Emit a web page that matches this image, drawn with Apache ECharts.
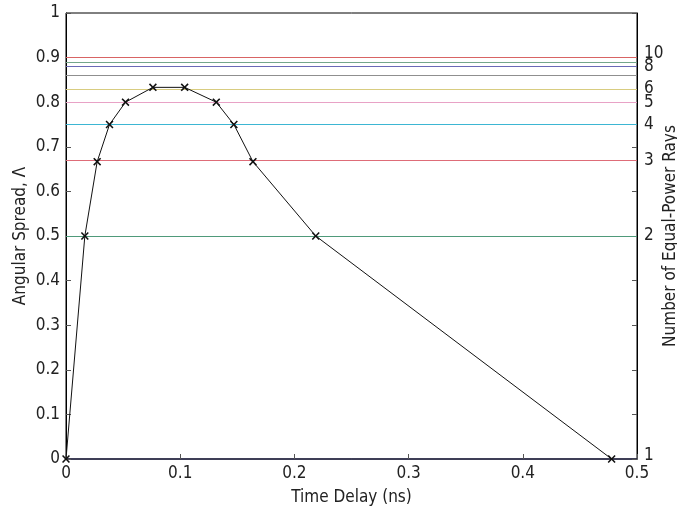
<!DOCTYPE html>
<html>
<head>
<meta charset="utf-8">
<script src="https://cdn.jsdelivr.net/npm/echarts@6/dist/echarts.min.js"></script>
<style>html,body{margin:0;padding:0;background:#fff}#c{width:677px;height:508px}</style>
</head>
<body>
<div id="c"></div>
<script>
// Data
const timeDelay = [0, 0.0165, 0.0273, 0.0381, 0.0521, 0.0761, 0.1039, 0.1316, 0.147, 0.1637, 0.2187, 0.4778];
const angularSpread = [0, 0.5, 0.6667, 0.75, 0.8, 0.8333, 0.8333, 0.8, 0.75, 0.6667, 0.5, 0];
const rayLevels = [0.5, 0.6667, 0.75, 0.8, 0.8333, 0.8571, 0.875, 0.8889, 0.9];
const rayColors = ['#4f9a7a', '#de6c78', '#3db6d3', '#e8a2c6', '#d8cc80', '#8f8f8f', '#6a6ab6', '#74a68a', '#d86464'];
const rightTickValues = [0, 0.5, 0.6667, 0.75, 0.8, 0.8333, 0.875, 0.9];
const rightTickLabels = ['1', '2', '3', '4', '5', '6', '8', '10'];
const leftTicks = [0, 0.1, 0.2, 0.3, 0.4, 0.5, 0.6, 0.7, 0.8, 0.9, 1];

const FONT = '"DejaVu Sans Condensed", "Liberation Sans", Arial, sans-serif';
const chart = echarts.init(document.getElementById('c'));
const crossPath = 'path://M0,1.4 L1.4,0 L5,3.6 L8.6,0 L10,1.4 L6.4,5 L10,8.6 L8.6,10 L5,6.4 L1.4,10 L0,8.6 L3.6,5 Z';

chart.setOption({
  animation: false,
  backgroundColor: '#fff',
  textStyle: { fontFamily: FONT },
  grid: { left: 66, right: 40, top: 13, bottom: 49, outerBoundsMode: 'none', containLabel: false,
          show: true, borderColor: '#000', borderWidth: 1, backgroundColor: 'transparent' },
  xAxis: {
    type: 'value', min: 0, max: 0.5, interval: 0.1,
    name: 'Time Delay (ns)', nameLocation: 'middle', nameGap: 30, nameMoveOverlap: false,
    nameTextStyle: { fontSize: 17, color: '#222', fontFamily: FONT },
    axisLine: { show: true, lineStyle: { color: '#2a2a4a', width: 1.5 } },
    axisTick: { inside: true, length: 5, lineStyle: { color: '#555' } },
    axisLabel: { fontSize: 17, color: '#222', margin: 6, fontFamily: FONT },
    splitLine: { show: false }
  },
  yAxis: [{
    type: 'value', min: 0, max: 1, interval: 0.1, position: 'left',
    name: 'Angular Spread, Λ', nameLocation: 'middle', nameGap: 37, nameMoveOverlap: false,
    nameTextStyle: { fontSize: 17, color: '#222', fontFamily: FONT },
    axisLine: { show: true, lineStyle: { color: '#000' } },
    axisTick: { inside: true, length: 5, lineStyle: { color: '#555' } },
    axisLabel: { fontSize: 17, color: '#222', margin: 6, fontFamily: FONT },
    splitLine: { show: false }
  }, {
    type: 'value', min: 0, max: 1, interval: 0.1, position: 'right',
    name: 'Number of Equal-Power Rays', nameLocation: 'middle', nameGap: 25, nameMoveOverlap: false,
    nameTextStyle: { fontSize: 17, color: '#222', fontFamily: FONT },
    axisLine: { show: true, lineStyle: { color: '#000' } },
    axisTick: { show: true, inside: true, length: 5, customValues: leftTicks, lineStyle: { color: '#555' } },
    axisLabel: { show: false },
    splitLine: { show: false }
  }],
  series: [{
    type: 'line', data: [], yAxisIndex: 0, silent: true,
    markLine: {
      silent: true, symbol: 'none', animation: false,
      label: { show: false },
      data: rayLevels.map(function (v, i) { return { yAxis: v, lineStyle: { color: rayColors[i], width: 1.2, type: 'solid' } }; })
    }
  }, {
    type: 'line', data: [], yAxisIndex: 0, silent: true,
    markLine: {
      silent: true, symbol: 'none', animation: false,
      lineStyle: { color: 'rgba(0,0,0,0)', width: 1 },
      label: { show: true, position: 'end', distance: 7, fontSize: 17, color: '#222', fontFamily: FONT },
      data: rightTickValues.map(function (v, i) {
        return { yAxis: v, label: { formatter: rightTickLabels[i], offset: [0, rightTickLabels[i] === '10' ? -4 : (rightTickLabels[i] === '1' ? -3 : 0)] } };
      })
    }
  }, {
    type: 'line', yAxisIndex: 0,
    data: timeDelay.map(function (x, i) { return [x, angularSpread[i]]; }),
    lineStyle: { color: '#111', width: 1 },
    symbol: crossPath, symbolSize: 8,
    itemStyle: { color: '#111' },
    z: 5
  }]
});
</script>
</body>
</html>
